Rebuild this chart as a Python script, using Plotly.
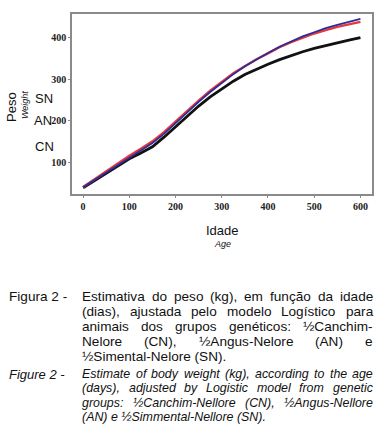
import plotly.graph_objects as go

# ---- data ----
idade = [0, 25, 50, 75, 100, 125, 150, 175, 200, 225, 250, 275, 300,
         325, 350, 375, 400, 425, 450, 475, 500, 525, 550, 575, 600]
peso_CN = [38, 55, 72, 90, 108, 122, 137, 160, 185, 210, 235, 257, 277,
           295, 311, 324, 336, 347, 357, 366, 374, 381, 388, 394, 400]
peso_AN = [40, 59, 78, 96, 115, 132, 150, 172, 198, 224, 248, 272, 293,
           314, 331, 348, 362, 377, 389, 400, 410, 418, 426, 432, 438]
peso_SN = [39, 57, 76, 94, 112, 129, 146, 168, 194, 220, 245, 269, 291,
           312, 331, 348, 363, 378, 391, 403, 413, 423, 431, 438, 445]
x_ticks = [0, 100, 200, 300, 400, 500, 600]
y_ticks = [100, 200, 300, 400]

caption_pt = [
    "Estimativa do peso (kg), em função da idade",
    "(dias), ajustada pelo modelo Logístico para",
    "animais dos grupos genéticos: ½Canchim-",
    "Nelore (CN), ½Angus-Nelore (AN) e",
    "½Simental-Nelore (SN).",
]
caption_en = [
    "Estimate of body weight (kg), according to the age",
    "(days), adjusted by Logistic model from genetic",
    "groups: ½Canchim-Nellore (CN), ½Angus-Nellore",
    "(AN) e ½Simmental-Nellore (SN).",
]

# ---- layout geometry ----
W, H = 386, 439
ML, MT, PW, PH = 72, 12, 300, 182
MR = W - ML - PW
MB = H - MT - PH


def px(x):
    return (x - ML) / PW


def py(y):
    return (MT + PH - y) / PH


fig = go.Figure()
fig.add_trace(go.Scatter(x=idade, y=peso_CN, mode="lines", name="CN",
                         line=dict(color="#111111", width=2.8)))
fig.add_trace(go.Scatter(x=idade, y=peso_AN, mode="lines", name="AN",
                         line=dict(color="#e8363a", width=2.4)))
fig.add_trace(go.Scatter(x=idade, y=peso_SN, mode="lines", name="SN",
                         line=dict(color="#2b2d9a", width=1.8)))

tickfont = dict(family="Liberation Serif", size=10, color="#222", weight="bold")
fig.update_xaxes(range=[-24, 625], tickvals=x_ticks, showgrid=False, zeroline=False,
                 showline=True, linecolor="#8a8a8a", linewidth=1.5, mirror=True,
                 ticks="outside", ticklen=2, tickcolor="#8a8a8a", tickfont=tickfont)
fig.update_yaxes(range=[23, 457], tickvals=y_ticks, showgrid=False, zeroline=False,
                 showline=True, linecolor="#8a8a8a", linewidth=1.5, mirror=True,
                 ticks="outside", ticklen=2, tickcolor="#8a8a8a", tickfont=tickfont)

ann = []


def text(x, y, s, size=13, italic=False, anchor="left", angle=0, color="#111"):
    ann.append(dict(xref="paper", yref="paper", x=px(x), y=py(y), text=s,
                    showarrow=False, xanchor=anchor, yanchor="middle",
                    textangle=angle, borderpad=0,
                    font=dict(family="Liberation Sans", size=size, color=color,
                              style="italic" if italic else "normal")))


# axis titles / group labels
text(12, 106, "Peso", size=13, anchor="center", angle=-90)
text(25, 104, "Weight", size=9, italic=True, anchor="center", angle=-90)
text(44, 97, "SN", size=13, anchor="center")
text(43, 120, "AN", size=13, anchor="center")
text(44, 146, "CN", size=13, anchor="center")
text(222, 231, "Idade", size=13, anchor="center")
text(222, 245, "Age", size=9, italic=True, anchor="center")

# Arial / Liberation Sans advance widths (per 1000 em)
AW = {' ': 278, 'a': 556, 'b': 556, 'c': 500, 'd': 556, 'e': 556, 'f': 278, 'g': 556,
      'h': 556, 'i': 222, 'j': 222, 'k': 500, 'l': 222, 'm': 833, 'n': 556, 'o': 556,
      'p': 556, 'q': 556, 'r': 333, 's': 500, 't': 278, 'u': 556, 'v': 500, 'w': 722,
      'x': 500, 'y': 500, 'z': 500, 'A': 667, 'B': 667, 'C': 722, 'D': 722, 'E': 667,
      'F': 611, 'G': 778, 'H': 722, 'I': 278, 'J': 500, 'K': 667, 'L': 556, 'M': 833,
      'N': 722, 'O': 778, 'P': 667, 'Q': 778, 'R': 722, 'S': 667, 'T': 611, 'U': 722,
      'V': 667, 'W': 944, 'X': 667, 'Y': 667, 'Z': 611, '(': 333, ')': 333, ',': 278,
      '.': 278, '-': 333, ':': 278, '½': 834, 'ã': 556, 'ç': 500, 'é': 556, 'í': 278}


def width(s, size):
    return sum(AW.get(c, 556) for c in s) * size / 1000.0


def justified(lines, x0, x1, y0, dy, size, italic):
    for i, line in enumerate(lines):
        y = y0 + i * dy
        words = line.split(" ")
        last = i == len(lines) - 1
        if last or len(words) == 1:
            text(x0, y, line, size=size, italic=italic)
            continue
        ws = [width(w, size) for w in words]
        gap = (x1 - x0 - sum(ws)) / (len(words) - 1)
        x = x0
        for w, wd in zip(words, ws):
            text(x, y, w, size=size, italic=italic)
            x += wd + gap


text(8, 298, "Figura 2 -", size=13.6)
justified(caption_pt, 81, 372, 298, 15, 13.6, False)
text(8, 376, "Figure 2 -", size=13, italic=True)
justified(caption_en, 81, 372, 376, 14.5, 12.4, True)

fig.update_layout(width=W, height=H, margin=dict(l=ML, r=MR, t=MT, b=MB),
                  paper_bgcolor="white", plot_bgcolor="white", showlegend=False,
                  annotations=ann)
fig.write_html("out.html", config={"displayModeBar": False},
               post_script="document.body.style.margin='0px';document.body.style.overflow='hidden';")
